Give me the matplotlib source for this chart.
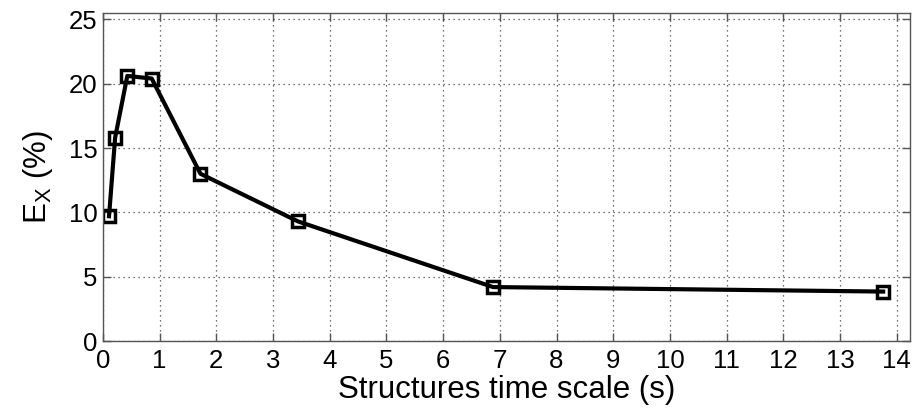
import numpy as np
import matplotlib.pyplot as plt

plt.rcParams['font.family'] = ['Liberation Sans', 'DejaVu Sans']

# Structure time scales (s) and error E_x (%)
time_scale = [0.1075, 0.215, 0.43, 0.86, 1.72, 3.44, 6.88, 13.76]
error_x = [9.7, 15.8, 20.6, 20.4, 13.0, 9.3, 4.2, 3.85]

xticks = list(range(0, 15))
yticks = [0, 5, 10, 15, 20, 25]

fig = plt.figure(figsize=(9.19, 4.15), dpi=100)
ax = fig.add_axes([0.112, 0.178, 0.878, 0.791])

ax.plot(time_scale, error_x, color='black', linewidth=3,
        marker='s', markersize=8, markerfacecolor='none',
        markeredgecolor='black', markeredgewidth=2.5)

ax.set_xlim(0, 14.23)
ax.set_ylim(0, 25.5)
ax.set_xticks(xticks)
ax.set_yticks(yticks)
ax.tick_params(direction='in', top=True, right=True, labelsize=18.5,
               length=6, width=1, colors='#555555', labelcolor='black',
               pad=4)
ax.tick_params(axis='x', pad=6)
for s in ax.spines.values():
    s.set_color('#555555')
    s.set_linewidth(1)

ax.grid(True, linestyle=(0, (1, 3)), color='#444444', linewidth=0.9)

ax.set_xlabel("Structures time scale (s)", fontsize=22.5, labelpad=1)
ax.set_ylabel(r"E$_\mathregular{X}$ (%)", fontsize=22.5, labelpad=10)

fig.savefig('out.png', dpi=100)
